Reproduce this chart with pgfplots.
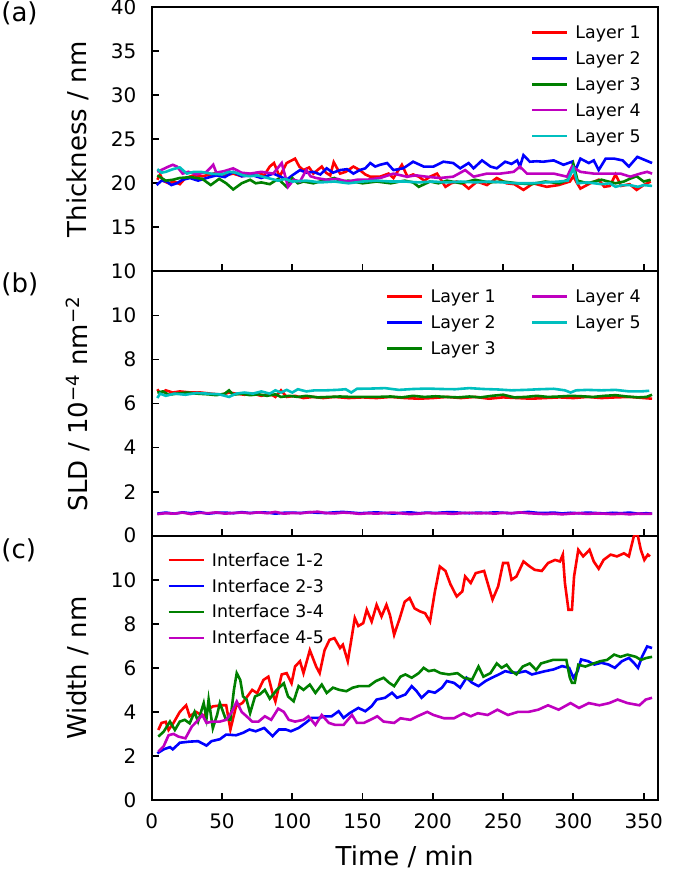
\documentclass[border=0pt]{standalone}
\usepackage{pgfplots}
\pgfplotsset{compat=1.18}
\usepackage{fontspec}
\setmainfont{DejaVu Sans}
\definecolor{cR}{rgb}{1,0,0}
\definecolor{cB}{rgb}{0,0,1}
\definecolor{cG}{rgb}{0,0.5,0}
\definecolor{cM}{rgb}{0.75,0,0.75}
\definecolor{cC}{rgb}{0,0.75,0.75}
\pgfplotsset{
 panel/.style={
  scale only axis, width=253pt, height=132.15pt, xmin=0, xmax=360,
  xtick={0,50,...,350}, tick align=inside, xtick pos=bottom, ytick pos=left,
  major tick length=3.5pt, axis line style={line width=0.9pt}, tick style={black, line width=0.9pt},
  /pgf/number format/assume math mode=true,
  tick label style={font=\fontsize{10}{12}\selectfont},
  yticklabel style={inner sep=0pt, xshift=-7.5pt},
  xticklabel style={inner sep=0pt, yshift=-6.5pt},
  every axis y label/.style={at={([xshift=-36.85pt]rel axis cs:0,0.5)}, rotate=90, anchor=center, font=\fontsize{13}{15}\selectfont},
  every axis x label/.style={at={([yshift=-28.5pt]rel axis cs:0.5,0)}, anchor=center, font=\fontsize{13}{15}\selectfont},
  legend style={draw=none, fill=none, font=\fontsize{8.7}{10}\selectfont, inner sep=0pt, row sep=4.75pt,
    nodes={inner sep=0pt, text height=6.3pt, text depth=1.9pt, anchor=base west},
    /tikz/every odd column/.style={column sep=3.5pt}},
  legend cell align=left,
  legend image code/.code={\draw[#1,line width=1.3pt] (0pt,3pt) -- (17.5pt,3pt);},
  every axis plot/.append style={line width=1.3pt},
 }
}
\begin{document}
\begin{tikzpicture}
\useasboundingbox (0,0) rectangle (342.5pt,436.5pt);
% ---------------- (a)
\begin{axis}[panel, at={(75.85pt,300.8pt)}, anchor=south west,
  ymin=10, ymax=40, ytick={10,15,...,40}, xticklabels={},
  ylabel={Thickness / nm},
  legend style={at={(rel axis cs:1,1)}, anchor=north east, xshift=-8.35pt, yshift=-9.2pt}]
\addplot[cR] coordinates {(4,20.4)(6,21.0)(8,20.3)(12,20.0)(16,20.2)(20,19.9)(24,20.6)(30,20.9)(36,20.8)(42,21.0)(46,21.2)(52,20.9)(58,21.1)(64,20.8)(70,21.0)(76,21.2)(80,20.9)(84,21.9)(87,22.3)(91,20.75)(96,22.3)(102,22.8)(105,21.9)(108,21.5)(112,21.8)(115,21.1)(121,21.9)(124,21.2)(127,20.9)(129.5,22.4)(134,21.1)(138,21.3)(143.5,21.9)(148,21.5)(152,21.0)(155.5,20.75)(162.5,20.75)(168.5,21.1)(172,20.6)(178,22.1)(182,20.75)(186,21.0)(190,20.75)(194,20.3)(198,20.75)(203,21.1)(209,19.6)(213,20.0)(217,20.2)(221,20.0)(225.5,19.4)(231.5,20.2)(238.5,19.8)(245.5,20.6)(252.5,20.0)(258,19.9)(264.5,19.25)(271.5,20.0)(276,19.8)(281,19.6)(289.5,19.8)(297.5,20.2)(300,20.8)(302,20.2)(305,19.4)(312,20.0)(318,20.4)(322,19.6)(326,19.7)(330,21.0)(334,19.7)(340,19.9)(345,19.25)(350,19.8)(355,20.2)};
\addlegendentry{Layer 1}
\addplot[cB] coordinates {(3.5,19.8)(7,20.3)(10.7,20.2)(14,19.8)(17.8,20.0)(22,20.4)(27.3,20.6)(33,20.3)(39,20.6)(46,20.9)(52,20.7)(58,21.3)(64,20.8)(72,20.9)(78,20.6)(86.5,21.1)(91,20.8)(96,20.4)(100,20.9)(105.5,21.5)(110,21.2)(115,21.3)(120,21.0)(124.5,21.7)(129,21.2)(134,21.5)(139,21.6)(143.5,21.1)(148,21.5)(152,21.7)(155.5,22.3)(159,21.9)(162.5,22.1)(167.5,22.3)(172,21.5)(179,21.7)(186,22.45)(193.5,21.9)(200.5,21.9)(207.5,22.45)(214.5,22.3)(219.5,21.7)(225.5,22.3)(229,21.7)(235,22.6)(241,21.9)(245.5,21.7)(251.5,22.45)(256,22.2)(260,22.6)(262,21.9)(264.5,23.2)(269,22.45)(274,22.5)(278.5,22.45)(286,22.6)(293,22.1)(299,22.45)(301.5,21.5)(305,22.8)(311,22.3)(314.5,22.6)(318,21.5)(323,22.8)(329,22.8)(335,22.6)(339.5,21.9)(345.5,23.0)(351.5,22.6)(356,22.3)};
\addlegendentry{Layer 2}
\addplot[cG] coordinates {(4,20.9)(10,20.3)(15,20.4)(20,20.6)(28,20.7)(36,20.5)(42,19.8)(48,20.5)(53,20.0)(58,19.3)(64,20.0)(70,20.4)(74,20.0)(78,20.1)(84,19.9)(90,20.5)(96,19.6)(100,20.6)(104,20.0)(108,20.2)(115,20.0)(122,20.3)(130,20.6)(135,20.2)(140,20.3)(150,20.0)(160,20.2)(170,20.0)(180,20.3)(186,20.1)(190,19.6)(198,20.2)(204,20.0)(210,20.3)(220,20.0)(230,20.4)(240,20.1)(250,20.2)(260,20.0)(270,19.9)(280,20.2)(290,20.0)(296,20.4)(300,22.2)(303,20.3)(310,20.0)(320,20.4)(330,20.0)(336,20.2)(340,20.5)(345,20.8)(350,20.2)(355,20.4)};
\addlegendentry{Layer 3}
\addplot[cM] coordinates {(4,21.3)(8,21.6)(12,21.9)(15,22.1)(18,21.9)(22,21.1)(26,21.3)(32,21.0)(39,21.3)(43.8,22.1)(46,21.2)(52,21.4)(58,21.7)(64,21.2)(70,21.1)(78,21.3)(86.5,21.1)(92.5,22.3)(97,19.6)(101,20.4)(105.5,20.2)(110,21.5)(113,20.8)(117,20.6)(124.5,20.4)(132,20.5)(139,20.2)(146,20.4)(153,20.4)(162.5,20.6)(172,21.1)(181.5,20.75)(188,20.9)(195.5,20.75)(205,20.6)(214.5,20.75)(223,21.5)(229,20.75)(238.5,21.1)(248,21.1)(257.5,21.3)(262,21.9)(267,21.1)(276.5,21.1)(286,21.1)(295.5,20.75)(299,21.9)(305,21.3)(314.5,21.1)(324,21.1)(333.5,21.1)(340.5,20.75)(347.5,21.1)(352.5,21.3)(356,21.1)};
\addlegendentry{Layer 4}
\addplot[cC] coordinates {(4,21.6)(7,21.2)(10,21.3)(15,21.6)(20,21.8)(25,21.1)(30,21.3)(35,21.3)(42,21.1)(50,21.0)(55,21.3)(60,21.2)(65,20.9)(70,20.8)(75,20.9)(80,20.7)(85,20.5)(90,20.3)(95,20.5)(100,20.2)(110,20.3)(120,20.1)(130,20.2)(140,20.0)(150,20.2)(160,20.3)(170,20.2)(180,20.2)(190,20.1)(200,20.2)(210,20.1)(220,20.2)(230,20.1)(240,20.2)(250,20.1)(260,20.0)(270,20.0)(280,20.1)(290,20.2)(296,20.3)(300,21.7)(303,20.0)(310,20.1)(320,19.9)(326,20.0)(330,19.6)(335,19.8)(340,19.8)(346,19.6)(350,19.8)(356,19.7)};
\addlegendentry{Layer 5}
\end{axis}
% ---------------- (b)
\begin{axis}[panel, at={(75.85pt,168.65pt)}, anchor=south west,
  ymin=0, ymax=12, ytick={0,2,...,10}, xticklabels={},
  ylabel={SLD / 10\textsuperscript{−4} nm\textsuperscript{−2}},
  legend columns=2,
  legend style={at={(rel axis cs:1,1)}, anchor=north east, xshift=-8.35pt, yshift=-9.2pt,
    /tikz/every even column/.style={column sep=17.6pt}}]
\addplot[cR, forget plot] coordinates {(4,6.65)(6,6.45)(10,6.6)(15,6.5)(20,6.55)(28,6.5)(35,6.5)(42,6.45)(50,6.4)(55,6.5)(60,6.45)(66,6.4)(72,6.45)(78,6.35)(84,6.45)(88,6.3)(92,6.6)(96,6.3)(102,6.35)(108,6.25)(115,6.3)(122,6.25)(130,6.3)(140,6.25)(150,6.28)(160,6.25)(170,6.3)(180,6.25)(190,6.22)(200,6.25)(210,6.3)(220,6.25)(230,6.3)(240,6.22)(250,6.28)(260,6.25)(270,6.22)(280,6.25)(290,6.28)(300,6.25)(310,6.3)(320,6.25)(330,6.28)(340,6.3)(350,6.25)(356,6.22)};
\addplot[cB, forget plot] coordinates {(4,1.0)(10,1.05)(16,1.0)(22,1.06)(28,1.02)(34,1.07)(40,1.0)(46,1.04)(52,1.05)(58,1.02)(64,1.07)(70,1.03)(76,1.06)(82,1.05)(88,1.0)(94,1.04)(100,1.05)(106,1.03)(112,1.07)(118,1.04)(124,1.03)(130,1.06)(136,1.08)(142,1.05)(148,1.02)(154,1.04)(160,1.06)(166,1.03)(172,1.0)(178,1.04)(184,1.06)(190,1.02)(196,1.05)(202,1.03)(208,1.06)(214,1.07)(220,1.04)(226,1.02)(232,1.05)(238,1.03)(244,1.06)(250,1.04)(256,1.02)(262,1.05)(268,1.08)(274,1.04)(280,1.03)(286,1.05)(292,1.01)(298,1.04)(304,1.02)(310,1.05)(316,1.03)(322,1.01)(328,1.04)(334,1.02)(340,1.05)(346,1.0)(352,1.02)(356,1.0)};
\addplot[cG, forget plot] coordinates {(4,6.5)(8,6.55)(12,6.4)(18,6.45)(25,6.5)(32,6.45)(40,6.42)(46,6.38)(52,6.45)(55,6.6)(58,6.4)(64,6.45)(70,6.38)(76,6.42)(82,6.35)(88,6.42)(92,6.3)(98,6.35)(104,6.3)(110,6.35)(118,6.28)(126,6.3)(134,6.32)(142,6.3)(150,6.3)(160,6.3)(170,6.32)(178,6.28)(186,6.35)(194,6.3)(202,6.33)(210,6.3)(218,6.28)(226,6.32)(234,6.28)(242,6.35)(250,6.4)(258,6.28)(266,6.3)(274,6.35)(282,6.3)(290,6.32)(298,6.35)(306,6.33)(314,6.3)(322,6.35)(330,6.38)(338,6.32)(346,6.28)(352,6.3)(356,6.4)};
\addplot[cM, forget plot] coordinates {(4,0.98)(10,1.02)(16,1.0)(22,1.05)(28,0.98)(34,1.04)(40,1.02)(46,1.06)(52,1.0)(58,1.03)(64,1.05)(70,1.02)(76,1.06)(82,1.02)(88,1.08)(94,1.0)(100,1.03)(106,1.02)(112,1.06)(118,1.09)(124,1.03)(130,1.01)(136,1.05)(142,1.03)(148,0.99)(154,1.02)(160,1.0)(166,1.03)(172,1.05)(178,1.01)(184,0.98)(190,1.0)(196,1.03)(202,1.01)(208,1.02)(214,0.99)(220,1.02)(226,1.04)(232,1.01)(238,1.03)(244,1.0)(250,1.04)(256,1.02)(262,1.06)(268,1.02)(274,1.0)(280,0.98)(286,1.0)(292,0.97)(298,1.0)(304,1.02)(310,0.99)(316,1.01)(322,1.0)(328,0.98)(334,1.0)(340,0.97)(346,1.0)(352,0.99)(356,1.0)};
\addplot[cC, forget plot] coordinates {(4,6.25)(6,6.45)(10,6.35)(16,6.45)(24,6.4)(32,6.48)(40,6.45)(48,6.42)(55,6.3)(60,6.45)(66,6.5)(72,6.45)(78,6.55)(84,6.45)(88,6.6)(92,6.5)(96,6.62)(100,6.5)(104,6.65)(110,6.55)(116,6.6)(124,6.6)(132,6.62)(138,6.65)(142,6.5)(146,6.67)(156,6.68)(166,6.7)(176,6.62)(186,6.66)(196,6.68)(206,6.66)(216,6.65)(226,6.7)(236,6.66)(246,6.64)(256,6.6)(266,6.62)(276,6.65)(286,6.67)(294,6.6)(298,6.5)(302,6.6)(310,6.62)(320,6.6)(330,6.62)(340,6.55)(348,6.55)(354,6.58)};
\addlegendimage{cR}\addlegendentry{Layer 1}
\addlegendimage{cM}\addlegendentry{Layer 4}
\addlegendimage{cB}\addlegendentry{Layer 2}
\addlegendimage{cC}\addlegendentry{Layer 5}
\addlegendimage{cG}\addlegendentry{Layer 3}
\end{axis}
% ---------------- (c)
\begin{axis}[panel, at={(75.85pt,36.5pt)}, anchor=south west,
  ymin=0, ymax=12, ytick={0,2,...,10},
  ylabel={Width / nm}, xlabel={Time / min},
  legend style={at={(rel axis cs:0,1)}, anchor=north west, xshift=7.65pt, yshift=-8.7pt}]
\addplot[cR] coordinates {(4.7,3.18)(7,3.5)(10,3.55)(12,3.18)(15.5,3.5)(20,4.0)(24.5,4.3)(27,3.8)(31.5,4.0)(37,3.8)(40,4.1)(43.5,4.25)(49.5,4.3)(53,4.3)(56,3.2)(60,4.25)(64.5,4.4)(68,4.7)(71.5,5.0)(75,4.85)(79.5,5.45)(83,5.6)(86,4.85)(88,4.47)(92.5,5.7)(96,5.76)(99.5,5.3)(102,6.06)(105.5,6.3)(108,5.76)(112.5,6.8)(117,6.06)(119.5,5.76)(123,6.8)(126.5,7.27)(130,7.35)(134,6.9)(136,7.05)(139.5,6.3)(142,7.27)(144.5,8.26)(147,7.9)(150.5,8.03)(153,8.64)(156.5,8.1)(160,8.86)(163.5,8.33)(167,8.86)(169.5,8.4)(172.5,7.5)(176.5,8.26)(180,9.0)(183.5,9.17)(187,8.7)(191,8.56)(194.5,8.48)(198,8.1)(201.5,9.47)(205,10.6)(209,10.4)(212.5,9.8)(217,9.24)(221,9.47)(223,10.15)(227,9.85)(230.5,10.3)(236.5,10.4)(239,9.85)(242.5,9.1)(246.5,9.7)(250,10.76)(253.5,10.76)(256,10.0)(259.5,10.15)(264.5,10.83)(269,10.6)(272.5,10.45)(277.5,10.4)(282,10.76)(287,10.9)(290.5,10.83)(292.5,11.14)(294,9.85)(296.5,8.64)(299,8.64)(300.5,10.15)(303.5,11.36)(307,11.06)(311.5,11.36)(314.5,10.83)(318,10.5)(321.5,10.9)(326.5,11.14)(331,11.06)(336,11.2)(339.5,11.06)(343,11.97)(345.5,12.1)(348,11.36)(350.5,10.9)(353,11.14)(354.5,11.06)};
\addlegendentry{Interface 1-2}
\addplot[cB] coordinates {(4,2.12)(8.5,2.3)(13,2.4)(15,2.3)(20,2.6)(27,2.65)(33,2.67)(39,2.47)(42.5,2.67)(48.5,2.76)(53,2.97)(60,2.94)(65,3.05)(69.5,3.2)(74,3.12)(80,3.27)(86,2.9)(90.5,3.2)(95.5,3.2)(99,3.12)(104.5,3.27)(109.5,3.5)(114,3.73)(119,3.73)(123.5,3.8)(128,3.8)(133,4.03)(136.5,3.73)(141,3.95)(147,4.18)(152,4.03)(156.5,4.26)(160,4.56)(166,4.64)(171,4.87)(174.5,4.64)(180.5,4.79)(185,5.17)(188.5,4.94)(192,4.64)(197,4.94)(201.5,4.87)(206.5,5.1)(210,5.4)(215,5.32)(219.5,5.1)(224,5.55)(228,5.32)(232.5,5.17)(237.5,5.4)(242,5.55)(247,5.7)(251.5,5.85)(256,5.78)(261,5.78)(266,5.85)(270.5,5.7)(275.5,5.78)(280,5.85)(286,5.93)(292,6.08)(297,6.0)(300,5.55)(303,5.85)(305.5,6.38)(310.5,6.3)(315,6.15)(320,6.23)(325,6.15)(329.5,6.0)(334.5,6.3)(339.5,6.45)(343,6.23)(346,6.0)(349,6.53)(352.5,6.97)(356,6.9)};
\addlegendentry{Interface 2-3}
\addplot[cG] coordinates {(4.7,2.88)(8.5,3.1)(13,3.56)(16.5,3.18)(20,3.56)(23.5,3.64)(27,3.48)(30.5,4.0)(33,3.56)(37,4.4)(39,3.71)(40.5,4.56)(43.5,3.26)(46.5,3.86)(48.5,4.4)(52.5,3.7)(56,3.64)(58.5,5.0)(60.5,5.76)(63,5.45)(65,4.7)(67.5,4.56)(70,3.94)(73.5,4.7)(77,4.8)(80.5,5.0)(84,4.6)(89,5.0)(94,5.3)(97,4.7)(101,4.48)(104.5,5.17)(108,5.0)(112.5,5.24)(116.5,4.86)(121,5.24)(124.5,4.86)(129,5.1)(133.5,5.0)(138.5,4.94)(143,5.1)(147.5,5.17)(154.5,5.17)(159.5,5.4)(165,5.55)(169,5.32)(172.5,5.17)(177,5.6)(180.5,5.7)(185,5.55)(190,5.76)(193.5,6.0)(197,5.85)(201,5.9)(205.5,5.76)(211.5,5.7)(217.5,5.76)(222,5.55)(228,5.47)(232.5,6.06)(236,5.6)(241,5.76)(245.5,6.2)(249,6.0)(252.5,6.14)(256,5.85)(259.5,5.7)(264,6.06)(269,6.2)(273.5,5.9)(277,6.2)(285.5,6.36)(295,6.36)(297.5,5.55)(299,5.32)(301,5.32)(303.5,6.14)(308.5,6.06)(314.5,6.2)(319,6.3)(324,6.36)(329,6.6)(333.5,6.5)(338.5,6.6)(344.5,6.5)(348,6.36)(352,6.45)(356,6.5)};
\addlegendentry{Interface 3-4}
\addplot[cM] coordinates {(4.7,2.2)(8.5,2.44)(12,2.94)(15.5,3.0)(19,2.88)(24,2.8)(28.5,3.33)(32,3.56)(36,3.86)(39,3.5)(43,3.56)(48.5,3.56)(53,3.64)(57,4.0)(60.5,4.47)(64,4.0)(67.5,3.8)(71.5,3.56)(76,3.56)(80.5,3.8)(85,3.64)(90,4.15)(94,4.0)(97.5,3.64)(102,3.56)(108,3.64)(111.5,3.8)(116.5,3.41)(121,3.86)(126,3.5)(130.5,3.41)(136.5,3.41)(142.5,3.86)(146,3.5)(151,3.5)(155.5,3.64)(160.5,3.8)(165,3.56)(172.5,3.5)(177,3.71)(184,3.64)(189,3.8)(196,4.0)(200.5,3.86)(208,3.71)(215,3.71)(222,3.94)(227,3.8)(232,3.94)(239,3.86)(246,4.1)(253.5,3.86)(260.5,4.0)(268,4.0)(275,4.1)(282,4.3)(289.5,4.1)(298,4.4)(304,4.18)(311,4.4)(318.5,4.3)(325.5,4.4)(331.5,4.56)(338.5,4.4)(347,4.3)(351.5,4.56)(356,4.64)};
\addlegendentry{Interface 4-5}
\end{axis}
\node[anchor=north west, inner sep=0pt, font=\fontsize{13}{15}\selectfont] at (0.5pt,435.6pt) {(a)};
\node[anchor=north west, inner sep=0pt, font=\fontsize{13}{15}\selectfont] at (0.5pt,300.5pt) {(b)};
\node[anchor=north west, inner sep=0pt, font=\fontsize{13}{15}\selectfont] at (0.5pt,167.5pt) {(c)};
\end{tikzpicture}
\end{document}
